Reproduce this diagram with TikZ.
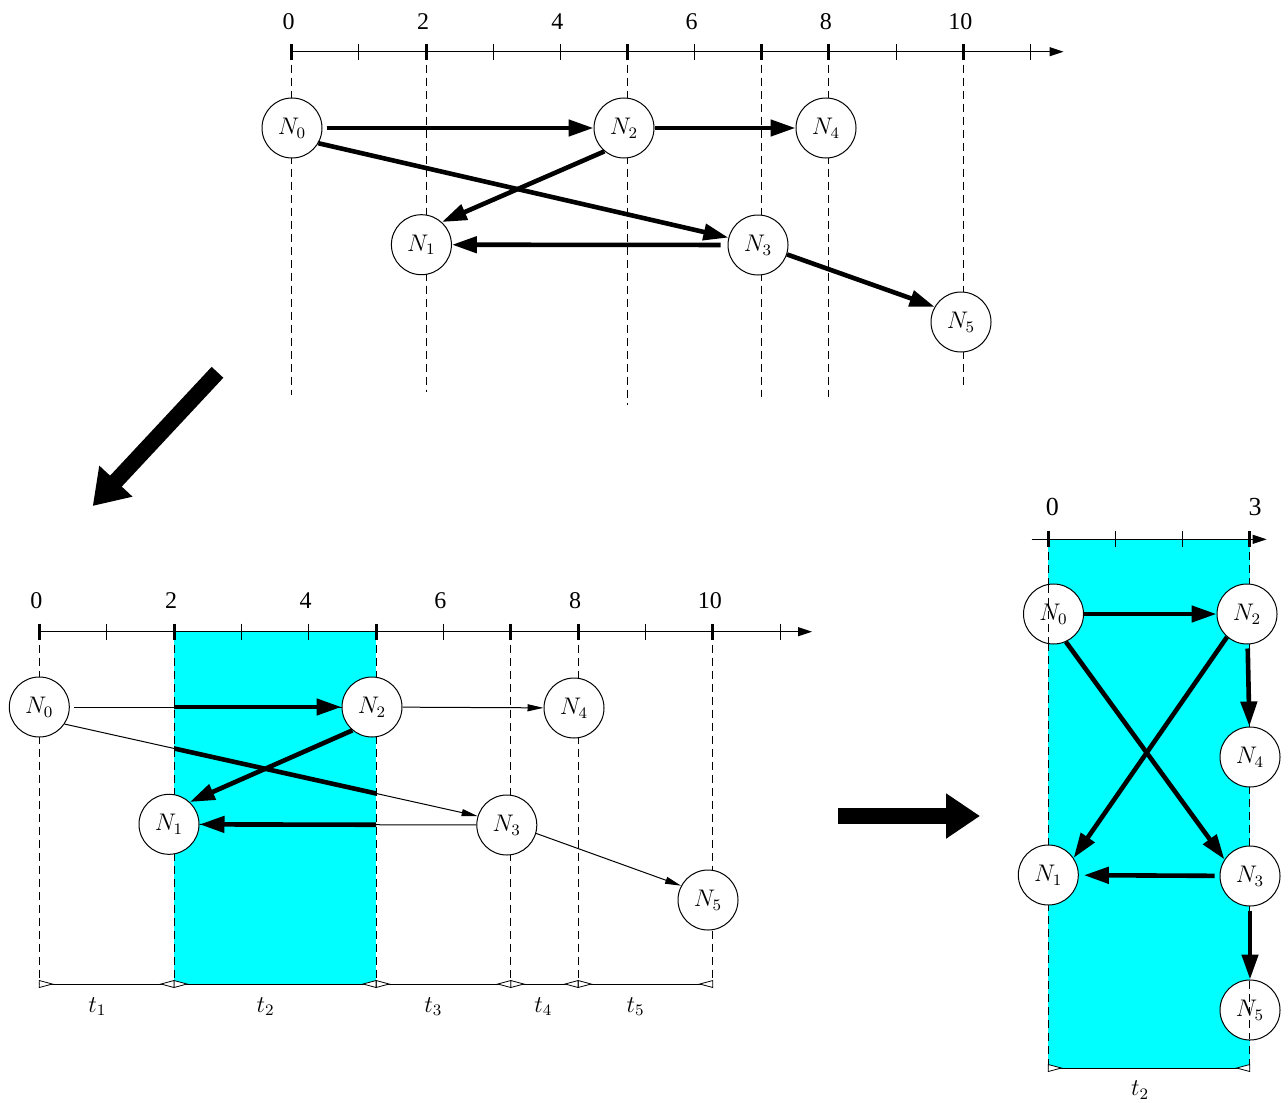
\documentclass[tikz,border=0pt]{standalone}
\usepackage{fontspec}
\setmainfont{Liberation Serif}
\usetikzlibrary{arrows.meta}
\definecolor{bandcyan}{RGB}{0,255,255}
\begin{document}
\begin{tikzpicture}[x=0.5pt,y=-0.5pt,
  nd/.style={circle,draw,line width=0.5pt,fill=white,minimum size=30pt,inner sep=0pt,font=\fontsize{12}{14}\selectfont},
  thk/.style={line width=2.3pt,-{Triangle[length=12.5pt,width=8pt]}},
  thn/.style={line width=0.5pt,-{Triangle[length=8pt,width=3.5pt]}},
  axisline/.style={line width=0.5pt,-{Triangle[length=7pt,width=4.5pt]}},
  majtick/.style={line width=1.5pt},
  mintick/.style={line width=0.5pt},
  vdash/.style={line width=0.5pt,dash pattern=on 4pt off 2.5pt},
  numlbl/.style={font=\fontsize{12}{14}\selectfont,inner sep=0pt},
  numlblb/.style={font=\fontsize{13}{15}\selectfont,inner sep=0pt},
  tlbl/.style={font=\fontsize{12}{14}\selectfont,inner sep=0pt},
  ivline/.style={line width=0.5pt},
  tril/.pic={\filldraw[fill=white,line width=0.4pt] (0,-3.5) -- (0,3.5) -- (-13,0) -- cycle;},
  trir/.pic={\filldraw[fill=white,line width=0.4pt] (0,-3.5) -- (0,3.5) -- (13,0) -- cycle;},
  bigarrow/.style={line width=8pt,-{Triangle[length=17pt,width=21.5pt]}},
]
\useasboundingbox (0,0) rectangle (1288,1102);

%================ TOP PANEL =================
\coordinate (tA0) at (291.7,51.7);
\coordinate (tAend) at (1063.5,51.7);
\foreach \u/\e in {0/395,2/392,5/405,7/397,8/397,10/388}
  \draw[vdash] ({291.7+67.16*\u},51.7) -- ({291.7+67.16*\u},\e);
\draw[axisline] (tA0) -- (tAend);
\foreach \u in {1,3,4,6,9,11}
  \draw[mintick] ({291.7+67.16*\u},43.7) -- ++(0,16);
\foreach \u in {0,2,5,7,8,10}
  \draw[majtick] ({291.7+67.16*\u},43.7) -- ++(0,16);
\foreach \u in {0,2,4,6,8,10}
  \node[numlbl] (tl\u) at ({291.7+67.16*\u-3},21.7) {\u};

\node[nd] (tN0) at (292,128) {$N_0$};
\node[nd] (tN2) at (624,128) {$N_2$};
\node[nd] (tN4) at (826,128) {$N_4$};
\node[nd] (tN1) at (421.4,244.7) {$N_1$};
\node[nd] (tN3) at (758,245) {$N_3$};
\node[nd] (tN5) at (961,322) {$N_5$};

\draw[thk,shorten <=2pt] (tN0) -- (tN2);
\draw[thk] (tN2) -- (tN4);
\draw[thk] (tN2.230) -- (tN1.48);
\draw[thk] (tN0.-30) -- (tN3.166);
\draw[thk,shorten <=3.5pt] (tN3) -- (tN1);
\draw[thk] (tN3.-18) -- (tN5.150);

%================ BIG ARROWS =================
\coordinate (ba1s) at (217.5,372.3);
\coordinate (ba1e) at (92.7,506);
\draw[bigarrow] (ba1s) -- (ba1e);
\coordinate (ba2s) at (838,816);
\coordinate (ba2e) at (980,816);
\draw[bigarrow] (ba2s) -- (ba2e);

%================ BOTTOM-LEFT PANEL =================
\fill[bandcyan] (174,631.7) rectangle (376.1,984);
\coordinate (bA0) at (39.3,631.7);
\coordinate (bAend) at (812,631.7);
\foreach \u in {0,2,5,7,8,10}
  \draw[vdash] ({39.3+67.35*\u},631.7) -- ({39.3+67.35*\u},984);
\draw[axisline] (bA0) -- (bAend);
\foreach \u in {1,3,4,6,9,11}
  \draw[mintick] ({39.3+67.35*\u},623.7) -- ++(0,16);
\foreach \u in {0,2,5,7,8,10}
  \draw[majtick] ({39.3+67.35*\u},623.7) -- ++(0,16);
\foreach \u in {0,2,4,6,8,10}
  \node[numlbl] (bl\u) at ({39.3+67.35*\u-3},600.7) {\u};

% interval bar
\coordinate (bI0) at (39.3,984);
\coordinate (bI5) at (712.8,984);
\draw[ivline] (bI0) -- (bI5);
\foreach \x in {39.3,174,376.1,510.8,578.1}
  \pic at (\x,984) {trir};
\foreach \x in {174,376.1,510.8,578.1,712.8}
  \pic at (\x,984) {tril};
\node[tlbl] (lt1) at (97.3,1006.7) {$t_1$};
\node[tlbl] (lt2) at (265.7,1006.7) {$t_2$};
\node[tlbl] (lt3) at (433.3,1006.7) {$t_3$};
\node[tlbl] (lt4) at (543.3,1006.7) {$t_4$};
\node[tlbl] (lt5) at (635.7,1006.7) {$t_5$};

\node[nd] (bN0) at (39.3,707) {$N_0$};
\node[nd] (bN2) at (372,707) {$N_2$};
\node[nd] (bN4) at (574,708) {$N_4$};
\node[nd] (bN1) at (169,824.3) {$N_1$};
\node[nd] (bN3) at (506.8,825) {$N_3$};
\node[nd] (bN5) at (708,900) {$N_5$};

% thin parts
\draw[line width=0.5pt,shorten <=2pt] (bN0) -- (bN2);
\draw[thn] (bN2) -- (bN4);
\draw[thn] (bN0.-34) -- (bN3.163);
\draw[line width=0.5pt] (bN3) -- (bN1);
\draw[thn] (bN3.-16) -- (bN5.152);
% thick parts inside the band
\begin{scope}
  \clip (174,0) rectangle (376.1,1102);
  \draw[thk,shorten <=2pt] (bN0) -- (bN2);
  \draw[thk,-] (bN0.-34) -- (bN3.163);
  \draw[thk] (bN3) -- (bN1);
\end{scope}
\draw[thk] (bN2.230) -- (bN1.47);

%================ RIGHT PANEL =================
\fill[bandcyan] (1048.3,539.3) rectangle (1249.7,1068);
\coordinate (rA0) at (1031.7,539.3);
\coordinate (rAend) at (1266.7,539.3);
\draw[vdash] (1048.3,539.3) -- (1048.3,1068);
\draw[vdash] (1249.7,539.3) -- (1249.7,1068);
\draw[axisline] (rA0) -- (rAend);
\foreach \x in {1115.3,1182.3}
  \draw[mintick] (\x,531.3) -- ++(0,16);
\foreach \x in {1048.3,1249.7}
  \draw[majtick] (\x,531.3) -- ++(0,16);
\node[numlblb] (rl0) at (1052.3,506.7) {0};
\node[numlblb] (rl3) at (1255,506.7) {3};

\coordinate (rI0) at (1048.3,1068);
\coordinate (rI1) at (1249.7,1068);
\draw[ivline] (rI0) -- (rI1);
\pic at (1048.3,1068) {trir};
\pic at (1249.7,1068) {tril};
\node[tlbl] (rlt2) at (1140,1090) {$t_2$};

\node[nd] (rN0) at (1053.5,614) {$N_0$};
\node[nd] (rN2) at (1247,614) {$N_2$};
\node[nd] (rN4) at (1250,757) {$N_4$};
\node[nd] (rN1) at (1048.3,875) {$N_1$};
\node[nd] (rN3) at (1250,876) {$N_3$};
\node[nd] (rN5) at (1250,1010) {$N_5$};
% dashed guide visible through N0 and N5
\draw[vdash] (1048.3,585) -- (1048.3,643);
\draw[vdash] (1249.7,981) -- (1249.7,1039);

\draw[thk] (rN0) -- (rN2);
\draw[thk,shorten <=2pt] (rN2) -- (rN4);
\draw[thk] (rN0.-66) -- (rN3.147);
\draw[thk] (rN2.229) -- (rN1.34);
\draw[thk,shorten <=2.5pt,shorten >=2.5pt] (rN3) -- (rN1);
\draw[thk,shorten <=2pt] (rN3) -- (rN5);
\end{tikzpicture}
\end{document}
